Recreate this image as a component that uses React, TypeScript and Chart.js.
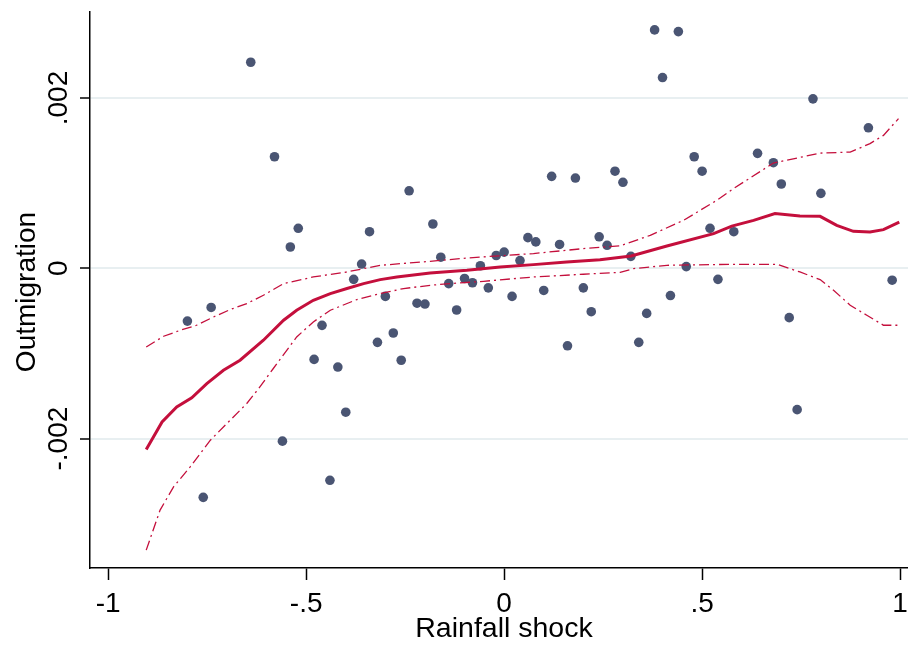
import React, { useEffect, useRef } from 'react';
import { Chart, registerables } from 'chart.js';

Chart.register(...registerables);

// Scatter: rainfall shock (x) vs outmigration (y)
const shockX = [
  -0.80, -0.76, -0.74, -0.64, -0.58, -0.56, -0.54, -0.52, -0.48, -0.46,
  -0.44, -0.42, -0.40, -0.38, -0.36, -0.34, -0.32, -0.30, -0.28, -0.26,
  -0.24, -0.22, -0.20, -0.18, -0.16, -0.14, -0.12, -0.10, -0.08, -0.06,
  -0.04, -0.02, 0.00, 0.02, 0.04, 0.06, 0.08, 0.10, 0.12, 0.14,
  0.16, 0.18, 0.20, 0.22, 0.24, 0.26, 0.28, 0.30, 0.32, 0.34,
  0.36, 0.38, 0.40, 0.42, 0.44, 0.46, 0.48, 0.50, 0.52, 0.54,
  0.58, 0.64, 0.68, 0.70, 0.72, 0.74, 0.78, 0.80, 0.92, 0.98,
];
const outmigY = [
  -0.00062, -0.00269, -0.00046, 0.00242, 0.00131, -0.00203, 0.00025, 0.00047, -0.00107, -0.00067,
  -0.00249, -0.00116, -0.00169, -0.00013, 0.00005, 0.00043, -0.00087, -0.00033, -0.00076, -0.00108,
  0.00091, -0.00041, -0.00042, 0.00052, 0.00013, -0.00018, -0.00049, -0.00012, -0.00017, 0.00003,
  -0.00023, 0.00015, 0.00019, -0.00033, 0.00009, 0.00036, 0.00031, -0.00026, 0.00108, 0.00028,
  -0.00091, 0.00106, -0.00023, -0.00051, 0.00037, 0.00027, 0.00114, 0.00101, 0.00014, -0.00087,
  -0.00053, 0.00280, 0.00224, -0.00032, 0.00278, 0.00002, 0.00131, 0.00114, 0.00047, -0.00013,
  0.00043, 0.00135, 0.00124, 0.00099, -0.00058, -0.00166, 0.00199, 0.00088, 0.00165, -0.00014,
];

// Fitted (local polynomial) line
const fitX = [
  -0.904, -0.864, -0.827, -0.789, -0.751, -0.709, -0.667, -0.608, -0.557, -0.524,
  -0.482, -0.439, -0.397, -0.355, -0.313, -0.271, -0.187, -0.094, -0.010, 0.074,
  0.158, 0.242, 0.321, 0.411, 0.529, 0.575, 0.630, 0.684, 0.747, 0.798,
  0.840, 0.882, 0.924, 0.958, 0.998,
];
const fitY = [
  -0.002128, -0.001804, -0.001628, -0.001521, -0.001354, -0.001197, -0.001080, -0.000845, -0.000610, -0.000493,
  -0.000376, -0.000297, -0.000238, -0.000180, -0.000133, -0.000102, -0.000055, -0.000023, 0.000015, 0.000043,
  0.000074, 0.000100, 0.000144, 0.000262, 0.000407, 0.000496, 0.000563, 0.000642, 0.000614, 0.000610,
  0.000505, 0.000434, 0.000426, 0.000454, 0.000543,
];

// Upper confidence bound
const upperX = [
  -0.904, -0.860, -0.818, -0.777, -0.734, -0.692, -0.650, -0.608, -0.557, -0.482,
  -0.397, -0.313, -0.187, -0.094, 0.074, 0.200, 0.293, 0.369, 0.453, 0.537,
  0.579, 0.680, 0.798, 0.874, 0.924, 0.958, 0.996,
];
const upperY = [
  -0.000924, -0.000798, -0.000728, -0.000669, -0.000572, -0.000485, -0.000414, -0.000317, -0.000180, -0.000102,
  -0.000043, 0.000035, 0.000082, 0.000121, 0.000173, 0.000231, 0.000264, 0.000387, 0.000563, 0.000798,
  0.000935, 0.001236, 0.001353, 0.001365, 0.001464, 0.001561, 0.001757,
];

// Lower confidence bound
const lowerX = [
  -0.904, -0.869, -0.835, -0.793, -0.742, -0.692, -0.650, -0.620, -0.583, -0.524,
  -0.482, -0.439, -0.372, -0.313, -0.254, -0.187, -0.136, -0.052, 0.074, 0.200,
  0.293, 0.327, 0.411, 0.579, 0.689, 0.747, 0.798, 0.832, 0.874, 0.916,
  0.958, 0.996,
];
const lowerY = [
  -0.003310, -0.002840, -0.002567, -0.002332, -0.002019, -0.001784, -0.001588, -0.001412, -0.001177, -0.000806,
  -0.000630, -0.000493, -0.000367, -0.000297, -0.000238, -0.000200, -0.000180, -0.000153, -0.000102, -0.000070,
  -0.000047, -0.000004, 0.000035, 0.000047, 0.000047, -0.000043, -0.000133, -0.000258, -0.000434, -0.000552,
  -0.000669, -0.000669,
];

const xTickValues = [-1, -0.5, 0, 0.5, 1];
const xTickLabels = ['-1', '-.5', '0', '.5', '1'];
const yTickValues = [-0.002, 0, 0.002];
const yTickLabels = ['-.002', '0', '.002'];
const xTitle = 'Rainfall shock';
const yTitle = 'Outmigration';

const FONT = '"Liberation Sans", Arial, sans-serif';
const RED = '#c40f3c';
const DOT = '#4a5573';

const toPoints = (xs: number[], ys: number[]) => xs.map((x, i) => ({ x, y: ys[i] }));

const textPlugin = {
  id: 'stataText',
  afterDraw(chart: any) {
    const { ctx, chartArea } = chart;
    const yScale = chart.scales.y;
    const xScale = chart.scales.x;
    ctx.save();
    ctx.fillStyle = '#000';
    ctx.font = `28px ${FONT}`;
    ctx.textAlign = 'center';
    ctx.textBaseline = 'alphabetic';
    yTickValues.forEach((v, i) => {
      const py = yScale.getPixelForValue(v);
      ctx.save();
      ctx.translate(67, py);
      ctx.rotate(-Math.PI / 2);
      ctx.fillText(yTickLabels[i], 0, 0);
      ctx.restore();
    });
    xTickValues.forEach((v, i) => {
      ctx.fillText(xTickLabels[i], xScale.getPixelForValue(v), 612);
    });
    ctx.save();
    ctx.translate(35, (chartArea.top + chartArea.bottom) / 2 + 2);
    ctx.rotate(-Math.PI / 2);
    ctx.fillText(yTitle, 0, 0);
    ctx.restore();
    ctx.font = `28.5px ${FONT}`;
    ctx.fillText(xTitle, (chartArea.left + chartArea.right) / 2 + 5, 637);
    ctx.restore();
  },
};

export default function App() {
  const ref = useRef<HTMLCanvasElement | null>(null);

  useEffect(() => {
    if (!ref.current) return;
    const ciStyle = {
      type: 'line',
      borderColor: RED,
      borderWidth: 1.3,
      borderDash: [10, 4, 2, 4],
      pointRadius: 0,
      fill: false,
      tension: 0,
    };
    const chart = new Chart(ref.current, {
      type: 'scatter',
      data: {
        datasets: [
          {
            type: 'line',
            data: toPoints(fitX, fitY),
            borderColor: RED,
            borderWidth: 3,
            pointRadius: 0,
            fill: false,
            tension: 0,
          },
          { ...ciStyle, data: toPoints(upperX, upperY) },
          { ...ciStyle, data: toPoints(lowerX, lowerY) },
          {
            type: 'scatter',
            data: toPoints(shockX, outmigY),
            backgroundColor: DOT,
            borderColor: DOT,
            borderWidth: 0,
            pointRadius: 4.8,
          },
        ],
      } as any,
      options: {
        animation: false,
        responsive: false,
        events: [],
        layout: { autoPadding: false, padding: { top: 12, left: 0, right: 0, bottom: 0 } },
        plugins: {
          legend: { display: false },
          tooltip: { enabled: false },
          title: { display: false },
        },
        scales: {
          x: {
            type: 'linear',
            min: -1.046,
            max: 1.02,
            afterBuildTicks: (s: any) => {
              s.ticks = xTickValues.map((v) => ({ value: v }));
            },
            afterFit: (s: any) => {
              s.height = 77;
            },
            ticks: { display: false },
            grid: {
              drawOnChartArea: false,
              tickColor: '#000',
              tickLength: 12,
              tickWidth: 1.5,
            },
            border: { color: '#000', width: 1.5 },
          },
          y: {
            type: 'linear',
            min: -0.00352,
            max: 0.00301,
            afterBuildTicks: (s: any) => {
              s.ticks = yTickValues.map((v) => ({ value: v }));
            },
            afterFit: (s: any) => {
              s.width = 90;
            },
            ticks: { display: false },
            grid: {
              color: '#e8eff1',
              lineWidth: 2,
              tickColor: '#000',
              tickLength: 10,
              tickWidth: 1.5,
            },
            border: { color: '#000', width: 1.5 },
          },
        },
      } as any,
      plugins: [textPlugin],
    });
    return () => chart.destroy();
  }, []);

  return (
    <div style={{ position: 'absolute', left: 0, top: 0, width: 908, height: 645, background: '#fff' }}>
      <canvas ref={ref} width={908} height={645} />
    </div>
  );
}
